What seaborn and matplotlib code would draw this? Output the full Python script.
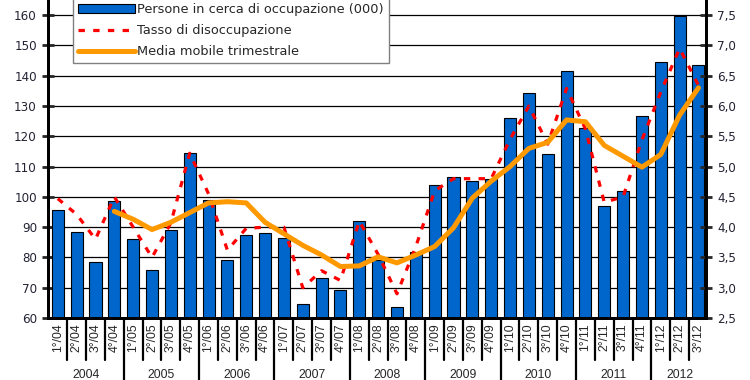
import matplotlib
matplotlib.use("Agg")
import matplotlib.pyplot as plt
import matplotlib.transforms as mtransforms
import numpy as np
import pandas as pd
import seaborn as sns

# Quarters 2004 Q1 .. 2012 Q3
years = ["2004", "2005", "2006", "2007", "2008", "2009", "2010", "2011", "2012"]
quarters = [f"{q}°/{y[2:]}" for y in years for q in range(1, 5)][:35]

# Persone in cerca di occupazione (000) - left axis
persone = [95.5, 88.5, 78.5, 98.5,
           86.0, 75.8, 89.0, 114.5,
           99.0, 79.0, 87.3, 88.2,
           86.5, 64.5, 73.3, 69.2,
           92.0, 79.0, 63.7, 81.7,
           103.9, 106.6, 105.1, 106.0,
           126.2, 134.2, 114.2, 141.5,
           122.8, 97.1, 101.9, 126.6,
           144.4, 159.7, 143.4]

# Tasso di disoccupazione (%) - right axis
tasso = [4.47, 4.21, 3.80, 4.50,
         4.00, 3.50, 4.07, 5.22,
         4.55, 3.62, 3.98, 4.00,
         4.00, 3.00, 3.28, 3.12,
         4.10, 3.55, 2.90, 3.68,
         4.60, 4.80, 4.80, 4.80,
         5.45, 6.00, 5.37, 6.29,
         5.62, 4.41, 4.50, 5.44,
         6.23, 6.95, 6.34]

# Media mobile trimestrale - starts at 4°/04
media = [np.nan, np.nan, np.nan, 4.26,
         4.13, 3.96, 4.08, 4.24,
         4.40, 4.42, 4.40, 4.08,
         3.89, 3.70, 3.54, 3.35,
         3.36, 3.51, 3.41, 3.54,
         3.68, 3.99, 4.48, 4.76,
         5.00, 5.30, 5.40, 5.77,
         5.74, 5.35, 5.17, 4.99,
         5.20, 5.85, 6.30]

df = pd.DataFrame({"trimestre": quarters, "persone": persone,
                   "tasso": tasso, "media": media})
df["pos"] = np.arange(len(df))

sns.set_style("white")
plt.rcParams["font.family"] = ["DejaVu Sans"]

fig = plt.figure(figsize=(7.5, 3.8), dpi=100)
ax = fig.add_axes([48 / 750, 62 / 380, 658 / 750, 318 / 380])

# Bars
sns.barplot(data=df, x="trimestre", y="persone", color="#0066CC",
            saturation=1, width=0.64, edgecolor="black", linewidth=0.8,
            ax=ax, zorder=2)
ax.set_xlim(-0.52, len(df) - 0.6)
ax.set_ylim(60, 165)
ax.set_yticks(range(60, 161, 10))
ax.grid(axis="y", color="black", linewidth=0.9, zorder=0)
ax.set_axisbelow(True)
ax.set_xlabel("")
ax.set_ylabel("")

# Lines on the right axis
ax2 = ax.twinx()
sns.lineplot(data=df, x="pos", y="tasso", ax=ax2, color="#FF0000",
             linewidth=2.3, linestyle=(0, (2, 2.6)))
sns.lineplot(data=df.dropna(subset=["media"]), x="pos", y="media", ax=ax2,
             color="#FF9900", linewidth=3.6)
ax2.set_ylim(2.5, 7.75)
ax2.set_yticks(np.arange(2.5, 7.51, 0.5))
ax2.set_yticklabels([f"{v:.1f}".replace(".", ",") for v in np.arange(2.5, 7.51, 0.5)])
ax2.set_xlabel("")
ax2.set_ylabel("")

for a in (ax, ax2):
    for s in a.spines.values():
        s.set_linewidth(2)
        s.set_color("black")
    a.spines["top"].set_visible(False)

ax.tick_params(axis="y", direction="inout", length=8, width=2,
               labelsize=8.6, labelcolor="#222233", pad=4)
ax2.tick_params(axis="y", direction="inout", length=8, width=2,
                labelsize=8.6, labelcolor="#222233", pad=4)

# Quarter labels, rotated
ax.set_xticks(df["pos"])
ax.set_xticklabels(df["trimestre"], rotation=90, fontsize=8.8,
                   family="Liberation Sans")
ax.tick_params(axis="x", length=0, pad=4)

# Separators under the axis
trans = mtransforms.blended_transform_factory(ax.transData, ax.transAxes)
n = len(df)
for i in range(n - 1):
    year_end = (i + 1) % 4 == 0
    y_low = -0.2 if year_end else -0.132
    ax.plot([i + 0.5, i + 0.5], [0, y_low], transform=trans, color="black",
            linewidth=1.6, clip_on=False)
for j, y in enumerate(years):
    start = j * 4
    end = min(start + 4, n) - 1
    ax.text((start + end) / 2, -0.18, y, transform=trans, ha="center",
            va="center", fontsize=8.8, family="Liberation Sans")

# Legend
bar_handle = ax.patches[0]
handles = [bar_handle, ax2.lines[0], ax2.lines[1]]
labels = ["Persone in cerca di occupazione (000)", "Tasso di disoccupazione",
          "Media mobile trimestrale"]
leg = ax2.legend(handles, labels, loc="upper left",
                 bbox_to_anchor=(25 / 658, 1.005), borderaxespad=0,
                 fontsize=9.3, handlelength=4.4, handletextpad=0.2,
                 labelspacing=0.62, borderpad=0.38, fancybox=False,
                 framealpha=1, edgecolor="#808080")
leg.get_frame().set_linewidth(1)

fig.savefig("out.png", dpi=100)
